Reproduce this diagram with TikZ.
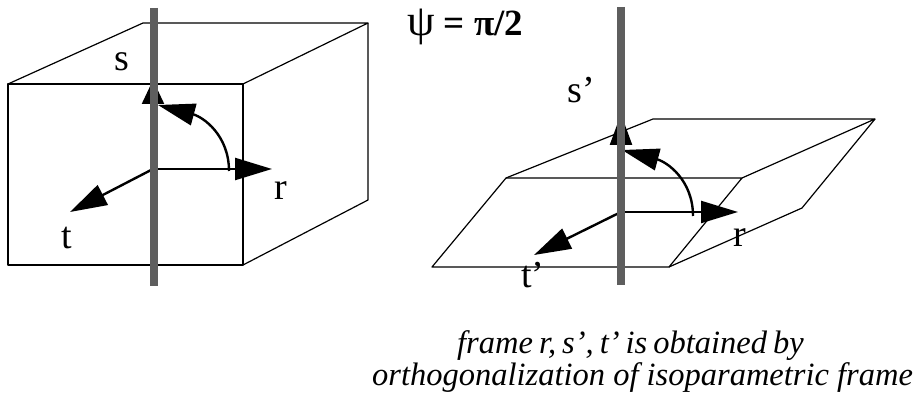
\documentclass[tikz,border=0pt]{standalone}
\usepackage{fontspec}
\setmainfont{Liberation Serif}
\usetikzlibrary{arrows.meta}
\definecolor{polegray}{HTML}{5E5E5E}
\tikzset{
  x=1pt,y=-1pt,
  boxline/.style={draw=black,line width=1.2pt,line join=round},
  axis/.style={draw=black,line width=2.4pt,-{Triangle[length=37pt,width=22pt]}},
  shortaxis/.style={draw=black,line width=2.4pt,-{Triangle[length=#1,width=22pt]}},
  arcaxis/.style={draw=black,line width=2.4pt,-{Triangle[length=37pt,width=22pt]}},
  pole/.style={draw=polegray,line width=8pt},
  lbl/.style={anchor=base,inner sep=0pt,font=\fontsize{38}{38}\selectfont},
  captext/.style={anchor=base west,inner sep=0pt,font=\fontsize{32.5}{33}\selectfont\itshape}
}
\begin{document}
\begin{tikzpicture}
\useasboundingbox (0,0) rectangle (922,395);
% left box
\coordinate (fa) at (8,84); \coordinate (fb) at (243,84);
\coordinate (fc) at (243,265); \coordinate (fd) at (8,265);
\coordinate (ba) at (143,23); \coordinate (bb) at (368,23);
\coordinate (bc) at (368,200);
\draw[boxline] (fa) -- (fb) -- (fc) -- (fd) -- cycle;
\draw[boxline] (fa) -- (ba) -- (bb) -- (fb);
\draw[boxline] (bb) -- (bc) -- (fc);
% left axes
\coordinate (o1) at (153,169);
\coordinate (r1) at (272,169); \coordinate (s1) at (153,80);
\coordinate (t1) at (70,212); \coordinate (q1) at (229,171); \coordinate (w1) at (158,105);
\draw[axis] (o1) -- (r1);
\draw[axis] (o1) -- (t1);
\draw[shortaxis=24pt] (o1) -- (s1);
\draw[arcaxis] (q1) .. controls (229,135) and (203,117) .. (w1);
\coordinate (p1a) at (154,8); \coordinate (p1b) at (154,286);
\draw[pole] (p1a) -- (p1b);
\node[lbl] (ls) at (122,71) {s};
\node[lbl] (lr) at (281,200) {r};
\node[lbl] (lt) at (67,249) {t};
% right slab
\coordinate (ga) at (506,178); \coordinate (gb) at (742,178);
\coordinate (gc) at (669,267); \coordinate (gd) at (432,267);
\coordinate (ha) at (653,119); \coordinate (hb) at (875,119);
\coordinate (hc) at (802,208);
\draw[boxline] (ga) -- (gb) -- (gc) -- (gd) -- cycle;
\draw[boxline] (ga) -- (ha) -- (hb) -- (gb);
\draw[boxline] (hb) -- (hc) -- (gc);
% right axes
\coordinate (o2) at (621,212);
\coordinate (r2) at (738,212); \coordinate (s2) at (621,114);
\coordinate (t2) at (534,255); \coordinate (q2) at (693,216); \coordinate (w2) at (622,150);
\draw[axis] (o2) -- (r2);
\draw[axis] (o2) -- (t2);
\draw[shortaxis=31pt] (o2) -- (s2);
\draw[arcaxis] (q2) .. controls (693,180) and (667,162) .. (w2);
\coordinate (p2a) at (621,7); \coordinate (p2b) at (621,285);
\draw[pole] (p2a) -- (p2b);
\node[lbl] (lsp) at (581,103) {s’};
\node[lbl] (lrp) at (740,247) {r};
\node[lbl] (ltp) at (533,288) {t’};
\node[anchor=base west,inner sep=0pt,font=\fontsize{37}{37}\selectfont\bfseries] (psi) at (407,36) {{\mdseries\fontsize{44}{44}\selectfont ψ} = π/2};
\node[captext] (c1) at (457,353.5) {\spaceskip=6pt frame r, s’, t’ is obtained by};
\node[captext] (c2) at (372,385.5) {orthogonalization of isoparametric frame};
\end{tikzpicture}
\end{document}
